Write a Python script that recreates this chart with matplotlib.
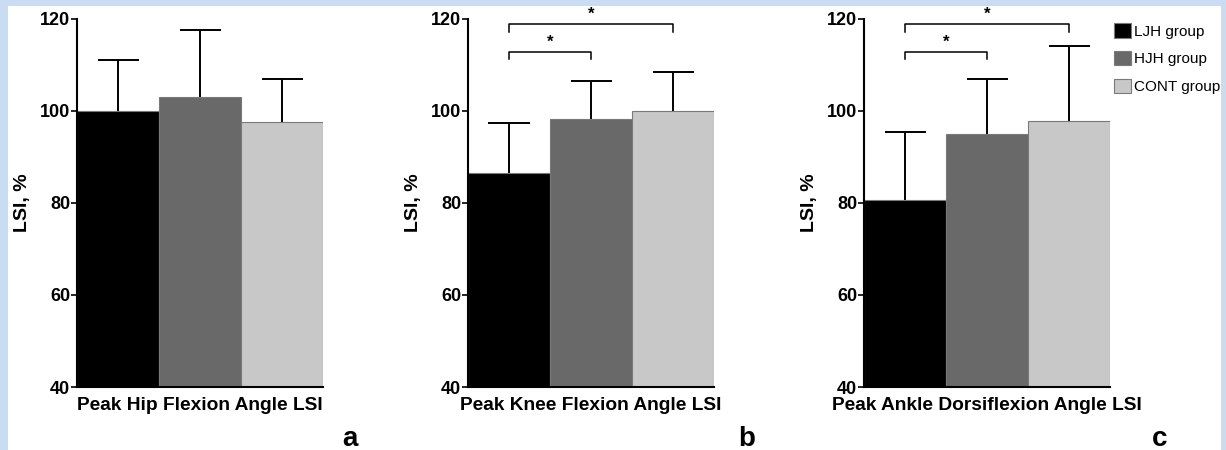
import matplotlib
matplotlib.use("Agg")
import matplotlib.pyplot as plt
from matplotlib.patches import Patch, Rectangle

plt.rcParams.update({
    "font.family": ["Liberation Sans", "DejaVu Sans"],
    "font.weight": "bold",
    "axes.linewidth": 1.5,
})

groups = ["LJH group", "HJH group", "CONT group"]
colors = ["#000000", "#696969", "#c8c8c8"]

panels = ["a", "b", "c"]
xlabels = ["Peak Hip Flexion Angle LSI",
           "Peak Knee Flexion Angle LSI",
           "Peak Ankle Dorsiflexion Angle LSI"]

hip_mean = [100.0, 103.0, 97.5]
hip_sd = [11.1, 14.6, 9.4]
knee_mean = [86.6, 98.3, 99.9]
knee_sd = [10.7, 8.2, 8.5]
ankle_mean = [80.6, 95.1, 97.9]
ankle_sd = [14.8, 11.9, 16.3]

means = [hip_mean, knee_mean, ankle_mean]
sds = [hip_sd, knee_sd, ankle_sd]

# significance brackets: (from bar, to bar, height) -- none for hip
sig_pairs = [[], [(0, 1, 112.9), (0, 2, 118.9)], [(0, 1, 112.9), (0, 2, 118.9)]]

W, H = 1226, 450
fig = plt.figure(figsize=(W / 100, H / 100), dpi=100, facecolor="#c9dcf2")
fig.patches.append(Rectangle((8 / W, 0), (1221 - 8) / W, (H - 6) / H,
                             transform=fig.transFigure, facecolor="white",
                             edgecolor="none", zorder=-10))

lefts = [77, 468, 864]
letter_x = [350, 747, 1160]
ax_w = 246
ax_bottom, ax_top = 387, 19

for k in range(3):
    ax = fig.add_axes([lefts[k] / W, 1 - ax_bottom / H, ax_w / W, (ax_bottom - ax_top) / H])
    ax.set_facecolor("none")
    x = list(range(3))
    m = means[k]
    tops = [a + b for a, b in zip(m, sds[k])]
    ax.bar(x, m, width=1.0, color=colors, edgecolor="#7a7a7a", linewidth=0.8,
           bottom=0, zorder=2)
    # upper-only error bars (SD)
    ax.vlines(x, m, tops, color="black", lw=1.4, zorder=1)
    ax.hlines(tops, [v - 0.25 for v in x], [v + 0.25 for v in x], color="black",
              lw=1.4, zorder=1)
    ax.set_xlim(-0.5, 2.5)
    ax.set_ylim(40, 120)
    ax.set_yticks([40, 60, 80, 100, 120])
    ax.set_xticks([])
    ax.spines["top"].set_visible(False)
    ax.spines["right"].set_visible(False)
    ax.tick_params(axis="y", length=4, width=1.2, labelsize=13, pad=1)
    for t in ax.get_yticklabels():
        t.set_fontweight("bold")
    ax.set_ylabel("LSI, %", fontsize=14, fontweight="bold", labelpad=6)
    ax.set_xlabel(xlabels[k], fontsize=13.8, fontweight="bold", labelpad=7)

    for (i, j, h) in sig_pairs[k]:
        ax.plot([i, i, j, j], [h - 1.7, h, h, h - 1.7], color="black", lw=1.1,
                clip_on=False, zorder=3)
        ax.text((i + j) / 2, h + 0.4, "*", ha="center", va="bottom", fontsize=12,
                fontweight="bold", clip_on=False)

    fig.text(letter_x[k] / W, 1 - 439 / H, panels[k], ha="center", va="center",
             fontsize=20, fontweight="bold")

handles = [Patch(facecolor=c, edgecolor="#7a7a7a", linewidth=0.8) for c in colors]
fig.legend(handles, groups, loc="upper left", bbox_to_anchor=(1114 / W, 1 - 23 / H),
           frameon=False, prop={"size": 11, "weight": "normal"}, handlelength=1.1,
           handleheight=1.1, handletextpad=0.2, labelspacing=0.8, borderpad=0,
           borderaxespad=0)

fig.savefig("out.png", dpi=100, facecolor=fig.get_facecolor())
